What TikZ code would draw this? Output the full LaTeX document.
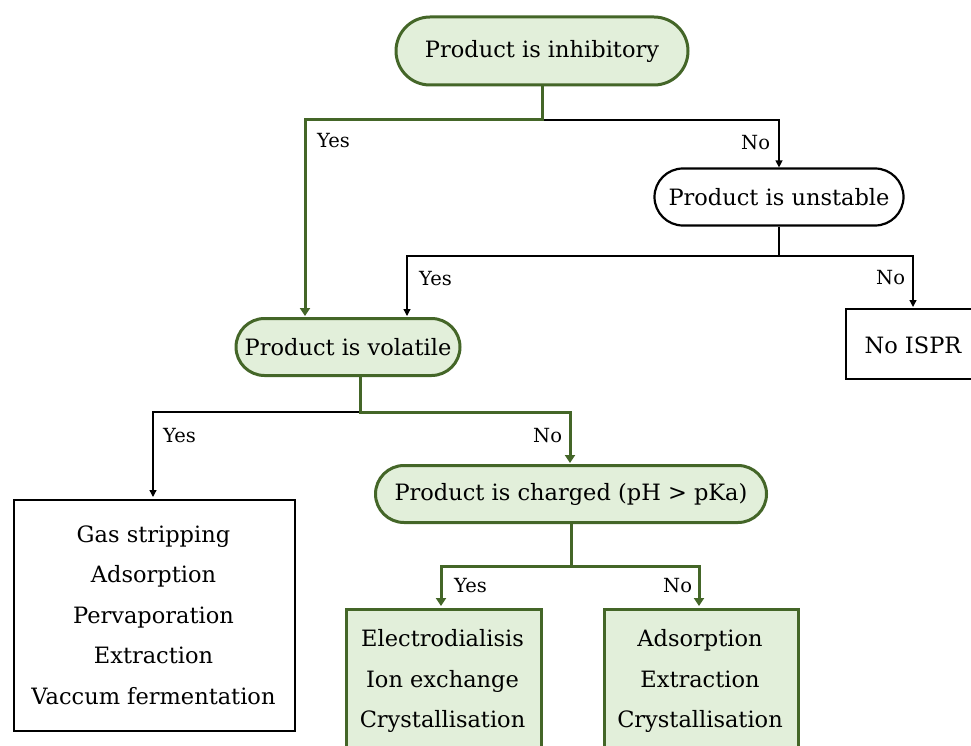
\documentclass[tikz,border=0pt]{standalone}
\usepackage{fontspec}
\setmainfont{DejaVu Serif}
\usetikzlibrary{arrows.meta,shapes.misc}
\definecolor{gborder}{RGB}{68,102,40}
\definecolor{gfill}{RGB}{226,239,218}
\tikzset{
  x=1pt,y=-1pt,
  every node/.style={font=\fontsize{22.5}{27}\selectfont, inner sep=0pt},
  gpill/.style={draw=gborder, fill=gfill, line width=3pt, rounded rectangle, align=center},
  wpill/.style={draw=black, fill=white, line width=2.2pt, rounded rectangle, align=center},
  wbox/.style={draw=black, fill=white, line width=2.4pt, align=center},
  gbox/.style={draw=gborder, fill=gfill, line width=3pt, align=center},
  lbl/.style={font=\fontsize{19.5}{23}\selectfont, anchor=west},
  listtext/.style={align=center, font=\fontsize{22.5}{40.5}\selectfont},
  thinarr/.style={draw=black, line width=1.3pt, -{Triangle[width=7pt,length=7pt]}},
  thickarr/.style={draw=gborder, line width=3pt, -{Triangle[width=10pt,length=8pt]}},
}
\begin{document}
\begin{tikzpicture}
\useasboundingbox (0,0) rectangle (971,746);
\begin{scope}
\clip (0,0) rectangle (971,746);
% nodes
\node[gpill, minimum width=292pt, minimum height=68pt] (inh) at (542,51) {Product is inhibitory};
\node[wpill, minimum width=249pt, minimum height=57pt] (uns) at (779,197) {Product is unstable};
\node[wbox, minimum width=135pt, minimum height=70pt, anchor=north west] (nois) at (845,308) {};
\node (noist) at (913,345) {No ISPR};
\node[gpill, minimum width=224pt, minimum height=57pt] (vol) at (348,347) {Product is volatile};
\node[wbox, minimum width=281pt, minimum height=231pt, anchor=north west] (gas) at (13,499) {};
\node[listtext] (gast) at (153.5,615) {Gas stripping\\Adsorption\\Pervaporation\\Extraction\\Vaccum fermentation};
\node[gpill, minimum width=391pt, minimum height=57pt] (chg) at (571,494) {Product is charged (pH > pKa)};
\node[gbox, minimum width=195pt, minimum height=160pt, anchor=north west] (ele) at (345,608) {};
\node[listtext] (elet) at (442.5,681) {Electrodialisis\\Ion exchange\\Crystallisation};
\node[gbox, minimum width=194pt, minimum height=160pt, anchor=north west] (ads) at (603,608) {};
\node[listtext] (adst) at (700,681) {Adsorption\\Extraction\\Crystallisation};
% coordinates
\coordinate (j1) at (542,120);
\coordinate (j2) at (779,256);
\coordinate (j3) at (360,412);
\coordinate (j4) at (571,566);
\coordinate (vs) at (360,375);
% connectors from inhibitory
\draw[thinarr] (j1) -| (uns.north);
\draw[thickarr] (inh.south) -- (j1) -| (305,316);
% from unstable
\draw[thinarr] (uns.south) -- (j2) -| (407,316);
\draw[thinarr] (j2) -| (913,307);
% from volatile
\draw[thinarr] (j3) -| (153,497);
\draw[thickarr] (vs) -- (j3) -| (570,463);
% from charged
\draw[thickarr] (chg.south) -- (j4) -| (441,606);
\draw[thickarr] (j4) -| (699,606);
% labels
\node[lbl] at (317,141) {Yes};
\node[lbl] at (741,143) {No};
\node[lbl] at (419,279) {Yes};
\node[lbl] at (876,278) {No};
\node[lbl] at (163,436) {Yes};
\node[lbl] at (533,436) {No};
\node[lbl] at (454,586) {Yes};
\node[lbl] at (663,586) {No};
\end{scope}
\end{tikzpicture}
\end{document}
